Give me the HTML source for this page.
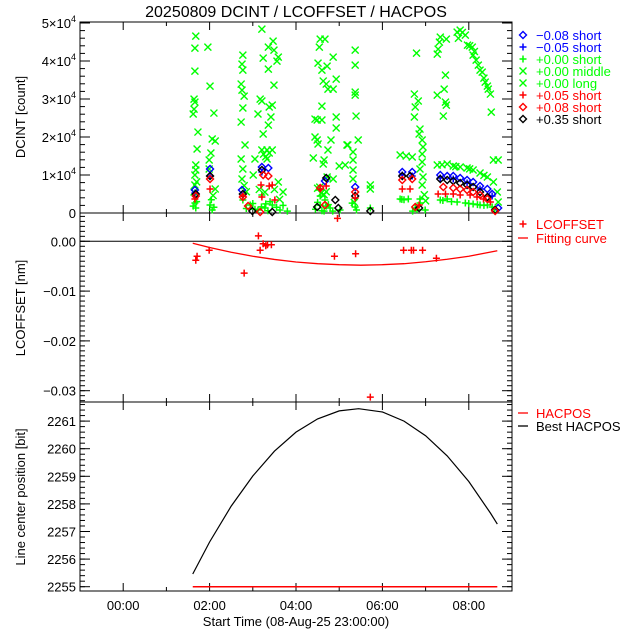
<!DOCTYPE html>
<html><head><meta charset="utf-8"><style>
html,body{margin:0;padding:0;background:#fff}
svg{display:block;font-family:"Liberation Sans",sans-serif}
</style></head><body>
<svg id="c" width="640" height="640" viewBox="0 0 640 640">
<rect width="640" height="640" fill="#fff"/>
<text x="296" y="17" font-size="16" text-anchor="middle">20250809 DCINT / LCOFFSET / HACPOS</text>
<g id="g"></g>
</svg>
<script>
// ---- Panel 1 data (t = hours, v = counts) ----
const m08T=[1.66,2.01,2.75,3.21,3.36,4.67,5.37,6.46,6.69,7.34,7.50,7.64,7.80,7.96,8.10,8.26,8.43,8.54,8.68];
const m08V=[6050,11570,6050,12100,11840,8420,6840,10780,10780,9990,9730,9730,9200,8680,8150,7100,6310,5000,1320];
const m05T=[1.66,2.01,3.21,6.46,6.69,7.34,7.64,7.96,8.26,8.54];
const m05V=[5260,9730,10780,9990,9730,9200,8940,7890,6310,4470];
const s00T=[6.41,6.87,6.6,7.34,7.50,7.73,7.92,8.10,8.26,8.43,8.54,1.66,1.68,2.01,2.06,2.77,2.94,3.12,3.28,3.45,3.63,4.56,4.67,4.79,5.02,5.37,5.72,6.76,6.87,6.99,3.21,4.56,1.62,1.70,2.04,2.10,2.85,3.00,3.05,3.35,3.40,3.55,3.70,3.80,4.45,4.50,4.60,4.75,4.85,5.30,5.40,6.45,6.50,6.70,6.80,7.40,7.60,8.00,8.20,8.35,8.60,3.20,3.30,4.65,4.70];
const s00V=[3680,3680,3680,3420,3680,2890,2630,2370,2100,2100,1580,2630,1320,2100,790,3420,2100,790,1320,2100,790,2100,3420,1320,790,1580,1320,1320,2630,790,4730,4470,1800,3000,3500,1500,1200,2500,1000,600,3000,1500,2000,500,1000,2800,600,2200,500,2600,800,3600,3500,500,900,3300,3000,2500,2200,2000,900,1600,2400,500,1800];
const midT=[1.68,1.66,1.66,1.64,1.66,1.64,1.62,1.73,1.71,1.68,1.68,1.66,1.66,1.64,1.96,2.01,2.10,2.06,2.13,2.03,1.99,1.99,2.13,2.77,2.75,2.77,2.73,2.75,2.80,2.77,2.73,2.82,2.73,2.77,2.75,3.01,3.21,3.47,3.36,3.49,3.59,3.56,3.24,3.36,3.49,3.17,3.21,3.45,3.38,3.12,3.42,3.36,3.24,3.21,3.33,3.45,3.05,3.33,3.59,3.70,4.56,4.67,4.54,4.86,4.51,4.72,4.60,4.93,4.63,4.70,4.74,4.86,4.60,4.93,4.44,4.49,4.60,4.93,4.44,4.49,4.81,4.74,4.51,5.18,4.40,4.65,4.63,5.00,5.14,4.72,4.86,5.37,5.37,5.37,5.37,5.39,5.44,5.20,5.32,5.32,5.32,5.32,5.72,5.72,6.79,6.74,6.83,6.76,6.74,6.87,6.85,6.92,6.94,6.92,6.92,6.87,6.94,6.92,7.34,7.32,7.29,7.27,7.48,7.46,7.43,7.27,7.46,7.48,7.41,8.52,8.57,8.68,6.41,6.69,6.55,3.25,3.30,3.38,3.28,3.15,4.50,4.58,4.65,4.70,4.55,1.70,2.08,2.80,2.85,3.50,3.62,6.97,7.00,5.35];
const midV=[46550,43400,37350,29980,29190,27350,26040,21300,16830,12620,11310,9990,7360,5520,43660,33400,26300,19460,18940,15780,13940,11570,6310,41550,39190,37610,33930,32350,30770,27620,23930,17880,14200,11570,8940,9990,48390,45240,43660,42870,41030,39980,40770,37870,33660,29980,29460,28400,27880,26040,25250,23140,20780,16570,16570,16570,14200,14200,8150,5520,45760,45760,43660,41030,39450,38660,37610,35240,34720,33930,32610,32610,28140,25250,24720,24460,24460,22360,19990,19200,19200,16570,18150,17880,14470,13940,12890,12360,12620,9470,8940,42870,38920,31820,31030,25510,19200,17880,16040,13940,11310,8940,7360,6310,42080,31300,29460,27880,25250,22090,20780,19200,17360,15520,13410,11570,9470,7360,46290,44970,43130,41820,45760,36290,32610,31030,29190,28400,25510,26560,13940,13940,15250,14730,15000,15500,14800,15800,5500,6200,6500,5200,4800,5600,6800,8200,4600,7200,5600,6200,3600,4800,3200,2800];
const longT=[7.73,7.80,7.92,7.97,8.08,8.10,8.17,8.22,8.26,8.31,8.38,8.43,8.45,8.50,7.27,7.50,7.64,7.80,7.96,8.10,8.26,8.43,8.57,8.66,8.68,7.76,7.85,8.02,8.13,8.35,7.38,7.70,8.02,8.35];
const longV=[47600,48130,46810,44180,43660,41550,40240,38920,37610,37080,34450,33400,32610,31300,12620,12890,12360,12100,11840,11310,10520,9470,8150,5520,2890,46000,47500,44000,42500,35500,12700,12200,11600,9900];
const p05T=[1.66,2.01,2.77,3.19,3.38,3.45,3.21,3.51,4.56,4.70,5.37,6.46,6.64,6.85,7.29,7.46,7.64,7.80,8.03,8.19,8.34,8.50];
const p05V=[3680,6310,4470,7360,7100,7360,4210,3420,6310,7100,3950,6310,6310,2100,5000,5000,5000,4730,4730,4210,3680,2890];
const p08T=[1.68,2.01,2.77,3.24,3.36,4.56,5.37,6.46,6.69,7.41,7.64,7.80,7.96,8.10,8.26,8.43,2.89,3.17,4.67,6.76,8.61];
const p08V=[4470,8940,4210,9990,9730,6580,5520,8680,8940,6840,6580,6310,6050,5520,4730,3680,1840,260,2100,1580,530];
const p35T=[1.68,2.01,2.77,3.21,4.70,4.91,5.37,6.46,6.64,6.85,7.34,7.50,7.64,7.80,7.96,8.10,8.26,8.43,8.61,2.99,3.45,4.49,4.98,5.72];
const p35V=[5000,9730,5000,11310,9200,3420,4470,9730,9730,1320,8940,8680,8420,7890,7360,6840,5520,4210,790,530,260,1580,1320,530];
// ---- Panel 2 data ----
const lcT=[1.68,1.71,1.99,2.80,3.13,3.17,3.24,3.30,3.34,3.43,4.89,4.96,5.38,5.72,6.49,6.67,6.72,6.93,7.25];
const lcV=[-0.0038,-0.0030,-0.0018,-0.0064,0.0011,-0.0018,-0.0005,-0.0009,-0.0007,-0.0007,-0.0030,0.0046,-0.0025,-0.0313,-0.0018,-0.0018,-0.0018,-0.0018,-0.0034];
const fitT=[1.61,2,2.5,3,3.5,4,4.5,5,5.5,6,6.5,7,7.5,8,8.66];
const fitV=[-0.0004,-0.00124,-0.0022,-0.0030,-0.00364,-0.00415,-0.0045,-0.0047,-0.0048,-0.0047,-0.0045,-0.0041,-0.0036,-0.0030,-0.0019];
// ---- Panel 3 data ----
const hacT=[1.61,8.66];
const hacV=[2255,2255];
const bestT=[1.61,2,2.5,3,3.5,4,4.5,5,5.45,6,6.5,7,7.5,8,8.5,8.66];
const bestV=[2255.46,2256.62,2257.92,2259.01,2259.91,2260.60,2261.08,2261.37,2261.45,2261.33,2261.00,2260.47,2259.74,2258.81,2257.67,2257.27];
// ---- axis labels ----
const xTickLabels=["00:00","02:00","04:00","06:00","08:00"];
const xTickHours=[0,2,4,6,8];
const y1Ticks=[0,1,2,3,4,5];
const y2Ticks=[0.00,-0.01,-0.02,-0.03];
const y2Labels=["0.00","\u22120.01","\u22120.02","\u22120.03"];
const y3Ticks=[2255,2256,2257,2258,2259,2260,2261];

const L=80,R=512;
const sx=t=>L+(t+1)*43.2;
const y1=v=>213-v*0.0038;
const y2=v=>241.3-v*4980;
const y3=v=>586.7-(v-2255)*27.6;
const NS="http://www.w3.org/2000/svg";
const g=document.getElementById('g');
function mk(tag,at,parent){const e=document.createElementNS(NS,tag);for(const k in at)e.setAttribute(k,at[k]);(parent||g).appendChild(e);return e;}
function txt(x,y,s,anchor,color,size){const e=mk('text',{x:x,y:y,'font-size':size||13,'text-anchor':anchor||'start',fill:color||'#000'});e.textContent=s;return e;}

[[22,213],[213,402],[402,591]].forEach((p,i)=>{
  const r=mk('rect',{x:L,y:p[0],width:R-L,height:p[1]-p[0],fill:'none',stroke:'#000','stroke-width':1});
  
  
  for(let h=-1;h<=9;h++){
    if(h<-0.5||h>8.9)continue;
    const len=(h%2===0)?8:4;const x=sx(h);
    mk('line',{x1:x,y1:p[1],x2:x,y2:p[1]-len,stroke:'#000'});
    mk('line',{x1:x,y1:p[0],x2:x,y2:p[0]+len,stroke:'#000'});
  }
});
xTickHours.forEach((h,i)=>{const e=txt(sx(h),610,xTickLabels[i],'middle');

});
const xt=txt(296,626,'Start Time (08-Aug-25 23:00:00)','middle');



function yTicks(fy,min,max,minorStep,majors,top,bot){
  for(let v=min;v<=max+1e-9;v+=minorStep){const y=fy(v);if(y<top-0.5||y>bot+0.5)continue;
    mk('line',{x1:L,y1:y,x2:L+5,y2:y,stroke:'#000'});mk('line',{x1:R,y1:y,x2:R-5,y2:y,stroke:'#000'});}
  majors.forEach(v=>{const y=fy(v);mk('line',{x1:L,y1:y,x2:L+10,y2:y,stroke:'#000'});mk('line',{x1:R,y1:y,x2:R-10,y2:y,stroke:'#000'});});
}
yTicks(y1,0,50000,2000,y1Ticks.map(k=>k*10000),22,213);
yTicks(y2,-0.032,0.005,0.001,y2Ticks,213,402);
yTicks(y3,2254.8,2261.6,0.2,y3Ticks,402,591);
y1Ticks.forEach(k=>{const y=y1(k*10000)+5;let e;
  if(k===0){e=txt(76,y,'0','end');}
  else{e=mk('text',{x:76,y:y,'font-size':13,'text-anchor':'end'});e.innerHTML=k+'\u00d710<tspan dy="-6" font-size="9">4</tspan>';}
  
  });
y2Ticks.forEach((v,i)=>{const e=txt(76,y2(v)+5,y2Labels[i],'end');
  
  });
y3Ticks.forEach(v=>{const e=txt(76,y3(v)+5,String(v),'end');
  
  });
[['DCINT [count]',117,'y1-axis-title'],['LCOFFSET [nm]',308,'y2-axis-title'],['Line center position [bit]',497,'y3-axis-title']].forEach(a=>{
  const e=mk('text',{x:0,y:0,'font-size':13,'text-anchor':'middle',transform:'translate(25,'+a[1]+') rotate(-90)'});e.textContent=a[0];
  
  });

function marker(type,x,y,c,parent){
  if(type==='d')mk('path',{d:`M${x} ${y-3.5}L${x+3.5} ${y}L${x} ${y+3.5}L${x-3.5} ${y}Z`,fill:'none',stroke:c,'stroke-width':1.4},parent);
  else if(type==='p')mk('path',{d:`M${x-3.5} ${y}H${x+3.5}M${x} ${y-3.5}V${y+3.5}`,stroke:c,'stroke-width':1.5},parent);
  else mk('path',{d:`M${x-3.5} ${y-3.5}L${x+3.5} ${y+3.5}M${x-3.5} ${y+3.5}L${x+3.5} ${y-3.5}`,stroke:c,'stroke-width':1.4},parent);
}
function series(name,T,V,fy,type,c){
  const sg=mk('g',{});
  
  
  T.forEach((t,i)=>marker(type,sx(t),fy(V[i]),c,sg));
}
series('series-middle',midT,midV,y1,'x','#00ff00');
series('series-long',longT,longV,y1,'x','#00ff00');
series('series-000-short',s00T,s00V,y1,'p','#00ff00');
series('series-m008-short',m08T,m08V,y1,'d','#0000ff');
series('series-m005-short',m05T,m05V,y1,'p','#0000ff');
series('series-p035-short',p35T,p35V,y1,'d','#000');
series('series-p008-short',p08T,p08V,y1,'d','#ff0000');
series('series-p005-short',p05T,p05V,y1,'p','#ff0000');

const zl=mk('line',{x1:L,y1:y2(0),x2:R,y2:y2(0),stroke:'#000'});


const fp=mk('polyline',{points:fitT.map((t,i)=>sx(t)+','+y2(fitV[i])).join(' '),fill:'none',stroke:'#ff0000','stroke-width':1.3});


series('lcoffset-points',lcT,lcV,y2,'p','#ff0000');

const hp=mk('polyline',{points:hacT.map((t,i)=>sx(t)+','+y3(hacV[i])).join(' '),fill:'none',stroke:'#ff0000','stroke-width':1.5});


const bp=mk('polyline',{points:bestT.map((t,i)=>sx(t)+','+y3(bestV[i])).join(' '),fill:'none',stroke:'#000','stroke-width':1.2});



const leg1=[['d','#0000ff','\u22120.08 short'],['p','#0000ff','\u22120.05 short'],['p','#00ff00','+0.00 short'],['x','#00ff00','+0.00 middle'],['x','#00ff00','+0.00 long'],['p','#ff0000','+0.05 short'],['d','#ff0000','+0.08 short'],['d','#000','+0.35 short']];
leg1.forEach((l,i)=>{const y=35+i*12;const lg=mk('g',{});
  
  
  marker(l[0],523,y,l[1],lg);
  const e=mk('text',{x:536,y:y+5,'font-size':13,fill:l[1]},lg);e.textContent=l[2];});
function lineLeg(y,c,label,sym){const lg=mk('g',{});
  
  
  if(sym==='p')marker('p',523,y,c,lg);else mk('line',{x1:518,y1:y,x2:528,y2:y,stroke:c,'stroke-width':1.3},lg);
  const e=mk('text',{x:536,y:y+5,'font-size':13,fill:c},lg);e.textContent=label;}
lineLeg(224,'#ff0000','LCOFFSET','p');
lineLeg(238,'#ff0000','Fitting curve','l');
lineLeg(413,'#ff0000','HACPOS','l');
lineLeg(426,'#000','Best HACPOS','l');
</script>
</body></html>
